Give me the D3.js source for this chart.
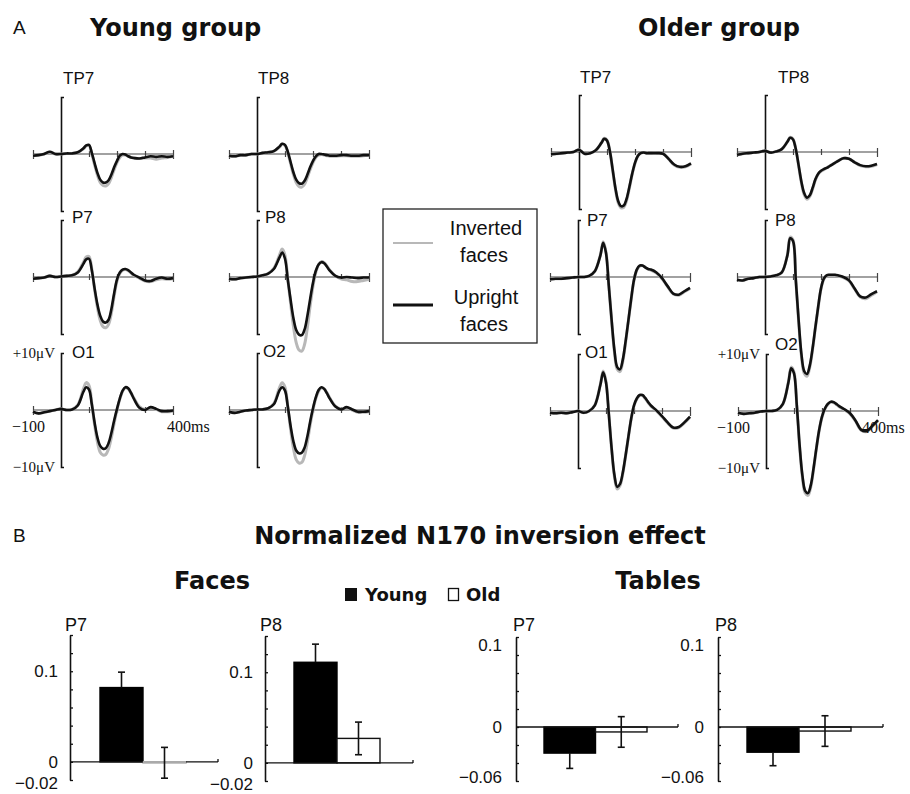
<!DOCTYPE html>
<html><head><meta charset="utf-8">
<script src="https://cdn.jsdelivr.net/npm/d3@7"></script>
<style>body{margin:0;background:#fff;} svg{display:block;}</style>
</head><body>
<svg id="c" width="910" height="794"></svg>
<script>
// ---------- DATA ----------
const times = [-100,-80,-60,-40,-20,0,20,40,60,80,90,100,110,120,130,140,150,160,170,180,190,200,210,220,230,240,250,260,280,300,320,340,360,380,400];

// Young group (µV)
const youngTP7Up  = [-0.3,-0.2,0,0.4,0,0,0.1,0.1,0.3,1.0,1.5,1.6,0.2,-1.6,-3.3,-4.5,-5.0,-5.0,-4.6,-3.6,-2.3,-1.2,-0.3,0.0,-0.1,-0.4,-0.6,-0.7,-0.8,-0.6,-0.4,-0.5,-0.4,-0.5,-0.4];
const youngTP7Inv = [-0.3,-0.2,0,0.3,0,0,0.1,0.1,0.3,0.9,1.4,1.5,0.0,-1.9,-3.7,-5.0,-5.5,-5.6,-5.2,-4.1,-2.7,-1.5,-0.6,-0.2,-0.2,-0.4,-0.6,-0.7,-0.8,-0.7,-0.7,-0.9,-0.7,-0.6,-0.4];
const youngTP8Up  = [-0.3,-0.4,-0.2,-0.2,0,0,0.2,0.3,0.5,1.3,1.8,1.6,0.4,-1.4,-3.2,-4.5,-5.1,-5.2,-4.7,-3.6,-2.3,-1.2,-0.4,0,0,-0.1,-0.2,-0.3,-0.3,-0.2,-0.2,-0.3,-0.3,-0.2,-0.2];
const youngTP8Inv = [-0.3,-0.4,-0.2,-0.2,0,0,0.2,0.3,0.5,1.2,1.7,1.5,0.2,-1.7,-3.6,-5.0,-5.7,-5.8,-5.3,-4.1,-2.7,-1.5,-0.6,-0.2,-0.1,-0.2,-0.3,-0.4,-0.4,-0.3,-0.3,-0.4,-0.4,-0.3,-0.2];
const youngP7Up   = [-0.3,-0.2,-0.1,0.2,0,0.1,0.2,0.3,0.8,2.3,3.1,3.2,1.2,-2.0,-4.8,-6.8,-7.8,-8.0,-7.5,-5.6,-2.8,-0.4,0.8,1.3,1.4,1.2,0.8,0.4,-0.1,-0.6,-0.7,-0.3,-0.1,-0.3,-0.2];
const youngP7Inv  = [-0.3,-0.2,-0.1,0.2,0,0.1,0.2,0.3,0.9,2.6,3.5,3.6,1.4,-2.2,-5.3,-7.6,-8.7,-8.9,-8.3,-6.3,-3.3,-0.7,0.6,1.2,1.3,1.1,0.7,0.3,-0.2,-0.7,-0.8,-0.5,-0.3,-0.4,-0.3];
const youngP8Up   = [-0.3,-0.4,-0.2,-0.1,0,0.1,0.3,0.6,1.4,3.4,4.3,3.2,-0.5,-4.0,-7.2,-9.3,-10.1,-10.2,-9.2,-6.8,-3.8,-1.0,1.1,2.2,2.6,2.4,1.8,1.1,0.2,-0.1,0,-0.1,-0.2,-0.1,-0.1];
const youngP8Inv  = [-0.3,-0.4,-0.2,-0.1,0,0.1,0.3,0.6,1.5,3.8,4.9,3.8,-0.4,-4.6,-8.6,-11.5,-12.8,-13.0,-11.8,-8.8,-5.0,-1.6,0.8,2.2,2.7,2.5,1.9,1.2,0.2,-0.3,-0.5,-0.8,-0.8,-0.6,-0.4];
const youngO1Up   = [-0.3,-0.6,-0.4,-0.2,0,0.2,0,0.1,0.8,3.2,4.0,3.6,1.0,-2.2,-4.8,-6.3,-6.8,-6.7,-5.8,-4.0,-1.8,0.2,2.0,3.4,4.0,3.8,3.0,2.0,0.4,0.0,0.5,0.2,-0.2,-0.2,-0.1];
const youngO1Inv  = [-0.3,-0.6,-0.4,-0.2,0,0.2,0,0.1,0.9,3.7,4.8,4.3,1.2,-2.6,-5.6,-7.4,-7.9,-7.8,-6.8,-4.8,-2.3,0.0,1.9,3.3,3.9,3.7,3.0,2.1,0.6,0.1,0.4,0.1,-0.3,-0.3,-0.2];
const youngO2Up   = [-0.3,-0.5,-0.3,-0.1,0,0.1,0.1,0.3,1.0,3.4,4.0,3.4,0.6,-2.8,-5.5,-7.1,-7.6,-7.5,-6.6,-4.6,-2.0,0.3,2.2,3.5,4.0,3.7,2.9,2.0,0.6,0.1,0.5,0.1,-0.3,-0.3,-0.2];
const youngO2Inv  = [-0.3,-0.5,-0.3,-0.1,0,0.1,0.1,0.3,1.1,3.9,4.8,4.0,0.6,-3.4,-6.7,-8.7,-9.3,-9.2,-8.0,-5.6,-2.6,0.0,2.0,3.3,3.9,3.7,3.0,2.1,0.7,0.2,0.4,0.0,-0.4,-0.4,-0.3];

// Older group (µV)
const olderTP7Up  = [-0.4,-0.3,-0.2,-0.1,0,0.4,-0.3,-0.2,0.3,1.6,2.3,2.0,0.2,-3.0,-6.3,-8.6,-9.5,-9.4,-8.2,-6.1,-3.8,-1.9,-0.7,-0.2,-0.1,-0.2,-0.2,-0.2,-0.2,-0.3,-1.2,-2.2,-2.6,-2.5,-2.0];
const olderTP7Inv = [-0.4,-0.3,-0.2,-0.1,0,0.4,-0.3,-0.2,0.3,1.6,2.4,2.1,0.2,-3.1,-6.5,-8.9,-9.8,-9.7,-8.5,-6.3,-3.9,-2.0,-0.7,-0.2,-0.1,-0.2,-0.2,-0.2,-0.2,-0.3,-1.2,-2.3,-2.7,-2.6,-2.1];
const olderTP8Up  = [-0.5,-0.3,-0.2,-0.1,0,0.2,-0.1,0.1,0.5,1.8,2.5,2.2,0.5,-2.3,-5.2,-7.2,-8.0,-7.6,-6.3,-4.8,-3.8,-3.3,-3.0,-2.8,-2.5,-2.2,-1.9,-1.6,-1.1,-1.2,-1.8,-2.3,-2.5,-2.4,-2.1];
const olderTP8Inv = [-0.5,-0.3,-0.2,-0.1,0,0.2,-0.1,0.1,0.5,1.8,2.6,2.3,0.5,-2.4,-5.4,-7.5,-8.3,-7.8,-6.5,-4.9,-3.9,-3.4,-3.1,-2.8,-2.5,-2.2,-1.9,-1.6,-1.1,-1.2,-1.8,-2.4,-2.6,-2.5,-2.2];
const olderP7Up   = [-0.4,-0.3,-0.3,-0.2,-0.1,0,0,0.2,1.0,3.8,6.0,4.2,-1.5,-7.5,-12.8,-15.8,-16.2,-14.5,-11.3,-7.6,-3.8,-0.5,1.3,2.0,2.0,1.7,1.4,1.3,0.8,-0.2,-1.6,-2.9,-3.1,-2.5,-1.9];
const olderP7Inv  = [-0.4,-0.3,-0.3,-0.2,-0.1,0,0,0.2,1.0,3.9,6.2,4.4,-1.5,-7.7,-13.1,-16.2,-16.6,-14.8,-11.5,-7.7,-3.9,-0.6,1.2,1.9,2.0,1.7,1.4,1.2,0.7,-0.3,-1.7,-3.0,-3.2,-2.6,-2.0];
const olderP8Up   = [-0.5,-0.6,-0.3,-0.2,0,0,0.1,0.3,0.8,3.8,6.8,6.3,-0.5,-7.5,-13.5,-16.5,-17.0,-15.5,-12.5,-8.8,-5.2,-2.0,-0.3,0.3,0.4,0.4,0.4,0.3,0,-0.6,-2.0,-3.4,-3.6,-3.0,-2.5];
const olderP8Inv  = [-0.5,-0.6,-0.3,-0.2,0,0,0.1,0.3,0.8,3.9,7.0,6.5,-0.5,-7.7,-13.8,-16.9,-17.4,-15.8,-12.7,-8.9,-5.3,-2.1,-0.4,0.2,0.3,0.3,0.3,0.2,-0.1,-0.7,-2.1,-3.5,-3.8,-3.2,-2.6];
const olderO1Up   = [-0.3,-0.4,-0.3,-0.4,-0.2,0,-0.3,0,1.0,4.6,6.8,5.0,-0.5,-6.5,-11.2,-13.3,-12.8,-10.8,-7.8,-4.5,-1.3,1.0,2.2,2.8,2.8,2.3,1.6,1.0,0.1,-0.9,-2.0,-2.9,-2.8,-2.0,-1.0];
const olderO1Inv  = [-0.3,-0.4,-0.3,-0.4,-0.2,0,-0.3,0,1.0,4.7,7.0,5.2,-0.5,-6.7,-11.5,-13.7,-13.1,-11.0,-7.9,-4.6,-1.4,0.9,2.1,2.7,2.7,2.2,1.5,0.9,0.0,-1.0,-2.1,-3.0,-2.9,-2.1,-1.1];
const olderO2Up   = [-0.3,-0.5,-0.4,-0.3,-0.1,0,0,0.2,1.2,5.0,7.5,6.6,1.0,-6.0,-11.3,-14.0,-14.4,-13.0,-10.0,-6.5,-3.3,-1.0,0.4,1.2,1.6,1.6,1.3,0.9,0.3,-0.4,-1.7,-3.3,-3.5,-2.6,-1.6];
const olderO2Inv  = [-0.3,-0.5,-0.4,-0.3,-0.1,0,0,0.2,1.2,5.1,7.7,6.8,1.0,-6.2,-11.6,-14.4,-14.8,-13.3,-10.2,-6.6,-3.4,-1.1,0.3,1.1,1.5,1.5,1.2,0.8,0.2,-0.5,-1.8,-3.4,-3.6,-2.7,-1.7];

// Panel B: normalized N170 inversion effect
const barGroups = ["Young", "Old"];
const facesP7Vals  = [0.082, -0.001];
const facesP7Err   = [0.017, 0.017];
const facesP8Vals  = [0.111, 0.027];
const facesP8Err   = [0.020, 0.018];
const tablesP7Vals = [-0.029, -0.0055];
const tablesP7Err  = [0.017, 0.017];
const tablesP8Vals = [-0.028, -0.0045];
const tablesP8Err  = [0.015, 0.017];
const facesTickLabels  = [0.1, 0, -0.02];
const tablesTickLabels = [0.1, 0, -0.06];

// ---------- DRAWING ----------
const svg = d3.select("#c");
const SANS = "'Liberation Sans', Arial, sans-serif";
const BOLD = "'DejaVu Sans', sans-serif";
const SERIF = "'Liberation Serif', 'Times New Roman', serif";

function text(x, y, s, opt = {}) {
  return svg.append("text").attr("x", x).attr("y", y).text(s)
    .attr("font-family", opt.family || SANS)
    .attr("font-size", opt.size || 17)
    .attr("font-weight", opt.weight || "normal")
    .attr("text-anchor", opt.anchor || "start")
    .attr("fill", "#111");
}

// Headings
text(13, 34, "A", {size: 19});
text(90, 36, "Young group", {family: BOLD, weight: "bold", size: 24});
text(638, 36, "Older group", {family: BOLD, weight: "bold", size: 24});

const erpPanels = [
  {name:"TP7", x0:61,  y0:154, up:youngTP7Up, inv:youngTP7Inv, lx:2,  ly:-76},
  {name:"TP8", x0:257, y0:154, up:youngTP8Up, inv:youngTP8Inv, lx:1,  ly:-76},
  {name:"P7",  x0:61,  y0:277, up:youngP7Up,  inv:youngP7Inv,  lx:11, ly:-60},
  {name:"P8",  x0:257, y0:277, up:youngP8Up,  inv:youngP8Inv,  lx:8,  ly:-60},
  {name:"O1",  x0:61,  y0:410, up:youngO1Up,  inv:youngO1Inv,  lx:11, ly:-58, scaleLabels:true, msDx:-6},
  {name:"O2",  x0:257, y0:410, up:youngO2Up,  inv:youngO2Inv,  lx:6,  ly:-59},
  {name:"TP7", x0:579, y0:152, up:olderTP7Up, inv:olderTP7Inv, lx:1,  ly:-75},
  {name:"TP8", x0:765, y0:152, up:olderTP8Up, inv:olderTP8Inv, lx:13, ly:-75},
  {name:"P7",  x0:578, y0:277, up:olderP7Up,  inv:olderP7Inv,  lx:9,  ly:-57},
  {name:"P8",  x0:765, y0:277, up:olderP8Up,  inv:olderP8Inv,  lx:10, ly:-57},
  {name:"O1",  x0:578, y0:411, up:olderO1Up,  inv:olderO1Inv,  lx:7,  ly:-59},
  {name:"O2",  x0:766, y0:411, up:olderO2Up,  inv:olderO2Inv,  lx:9,  ly:-67, scaleLabels:true, msDx:-16},
];

erpPanels.forEach(p => {
  const x = d3.scaleLinear().domain([-100, 400]).range([p.x0 - 28, p.x0 + 112]);
  const y = d3.scaleLinear().domain([-10, 10]).range([p.y0 + 57, p.y0 - 57]);
  const g = svg.append("g");

  g.append("line").attr("x1", x(-100)).attr("x2", x(400)).attr("y1", y(0)).attr("y2", y(0))
    .attr("stroke", "#444").attr("stroke-width", 1.2);
  const hx = g.append("g").attr("transform", `translate(0,${y(0) - 3})`)
    .call(d3.axisBottom(x).tickValues([-100, 100, 200, 300, 400]).tickSize(6).tickSizeOuter(0).tickFormat(""));
  hx.select(".domain").remove();
  hx.selectAll(".tick line").attr("stroke", "#444").attr("stroke-width", 1.2);
  hx.selectAll(".tick").filter(d => d === -100 || d === 400).select("line")
    .attr("y1", -1).attr("y2", 8);

  const vy = g.append("g").attr("transform", `translate(${x(0)},0)`)
    .call(d3.axisRight(y).tickValues([]).tickSizeOuter(3));
  vy.select(".domain").attr("stroke", "#111").attr("stroke-width", 1.6);

  const line = d3.line().x((d, i) => x(times[i])).y(d => y(d)).curve(d3.curveCatmullRom.alpha(0.5));
  g.append("path").datum(p.inv).attr("d", line).attr("fill", "none")
    .attr("stroke", "#b8b8b8").attr("stroke-width", 3).attr("stroke-linejoin", "round");
  g.append("path").datum(p.up).attr("d", line).attr("fill", "none")
    .attr("stroke", "#111").attr("stroke-width", 2.6).attr("stroke-linejoin", "round");

  text(p.x0 + p.lx, p.y0 + p.ly + 6, p.name, {size: 17});

  if (p.scaleLabels) {
    text(x(0) - 6, y(10) + 5, "+10\u03bcV", {family: SERIF, size: 15, anchor: "end"});
    text(x(0) - 6, y(-10) + 5, "\u221210\u03bcV", {family: SERIF, size: 15, anchor: "end"});
    text(x(-100) - 21, y(0) + 22, "\u2212100", {family: SERIF, size: 16});
    text(x(400) + p.msDx, y(0) + 22, "400ms", {family: SERIF, size: 16});
  }
});

// ERP legend
svg.append("rect").attr("x", 383).attr("y", 209).attr("width", 154).attr("height", 134)
  .attr("fill", "#fff").attr("stroke", "#222").attr("stroke-width", 1.3);
const legendItems = [
  {color:"#b8b8b8", w:2, ly:243, t1:"Inverted", t2:"faces", ty:228},
  {color:"#111", w:3, ly:305, t1:"Upright", t2:"faces", ty:297},
];
legendItems.forEach(d => {
  svg.append("line").attr("x1", 393).attr("x2", 433).attr("y1", d.ly).attr("y2", d.ly)
    .attr("stroke", d.color).attr("stroke-width", d.w);
  text(486, d.ty + 7, d.t1, {size: 20, anchor: "middle"});
  text(484, d.ty + 34, d.t2, {size: 20, anchor: "middle"});
});

// Panel B
text(13, 542, "B", {size: 19});
text(480, 544, "Normalized N170 inversion effect", {family: BOLD, weight: "bold", size: 24, anchor: "middle"});
text(212, 589, "Faces", {family: BOLD, weight: "bold", size: 24, anchor: "middle"});
text(658, 589, "Tables", {family: BOLD, weight: "bold", size: 24, anchor: "middle"});

svg.append("rect").attr("x", 345).attr("y", 588).attr("width", 12).attr("height", 13).attr("fill", "#111");
text(365, 601, "Young", {family: BOLD, weight: "bold", size: 18});
svg.append("rect").attr("x", 448.5).attr("y", 588.5).attr("width", 10).attr("height", 12)
  .attr("fill", "#fff").attr("stroke", "#111").attr("stroke-width", 1.3);
text(466, 601, "Old", {family: BOLD, weight: "bold", size: 18});

const barCharts = [
  {name:"P7", axisX:70,  xEnd:218, bx0:100, bx1:186, yr:[780, 635], dom:[-0.02, 0.14], vals:facesP7Vals,  errs:facesP7Err,  labels:facesTickLabels,  lab:-12, nameDx:-5},
  {name:"P8", axisX:265, xEnd:413, bx0:294, bx1:380, yr:[781, 636], dom:[-0.02, 0.14], vals:facesP8Vals,  errs:facesP8Err,  labels:facesTickLabels,  lab:-12, nameDx:-5},
  {name:"P7", axisX:516, xEnd:678, bx0:544, bx1:647, yr:[781, 637], dom:[-0.06, 0.10], vals:tablesP7Vals, errs:tablesP7Err, labels:tablesTickLabels, lab:-14, nameDx:-3},
  {name:"P8", axisX:718, xEnd:883, bx0:747, bx1:851, yr:[781, 637], dom:[-0.06, 0.10], vals:tablesP8Vals, errs:tablesP8Err, labels:tablesTickLabels, lab:-14, nameDx:-3},
];

barCharts.forEach(c => {
  const y = d3.scaleLinear().domain(c.dom).range(c.yr);
  const x = d3.scaleBand().domain(barGroups).range([c.bx0, c.bx1]).padding(0);
  const g = svg.append("g");
  const minor = d3.range(Math.round(c.dom[0] * 50), Math.round(c.dom[1] * 50) + 1).map(k => k / 50);
  const ax = g.append("g").attr("transform", `translate(${c.axisX},0)`)
    .call(d3.axisRight(y).tickValues(minor).tickSize(3).tickSizeOuter(0).tickFormat(""));
  ax.select(".domain").attr("stroke", "#111").attr("stroke-width", 1.6);
  ax.selectAll(".tick line").attr("stroke", "#111").attr("stroke-width", 1.3);

  c.labels.forEach(v => {
    let off = 0;
    if (v === 0.1 && c.dom[1] === 0.1) off = 8;
    if (v === c.dom[0]) off = c.dom[0] === -0.02 ? 3 : -4;
    const s = v === 0 ? "0" : (v < 0 ? "\u2212" + String(Math.abs(v)) : String(v));
    text(c.axisX + c.lab, y(v) + off + 6, s, {size: 17, anchor: "end"});
  });
  text(c.axisX + c.nameDx, 631, c.name, {size: 18});

  g.selectAll("rect.bar").data(c.vals).enter().append("rect")
    .attr("x", (d, i) => x(barGroups[i]))
    .attr("width", x.bandwidth())
    .attr("y", d => y(Math.max(0, d)))
    .attr("height", d => Math.max(1, Math.abs(y(d) - y(0))))
    .attr("fill", (d, i) => i === 0 ? "#000" : "#fff")
    .attr("stroke", (d, i) => i === 0 ? "#000" : (Math.abs(d) < 0.002 ? "#999" : "#111"))
    .attr("stroke-width", 1.4);

  g.append("line").attr("x1", c.axisX).attr("x2", c.xEnd).attr("y1", y(0)).attr("y2", y(0))
    .attr("stroke", "#111").attr("stroke-width", 1.4);
  c.vals.forEach((d, i) => {
    if (i === 1 && Math.abs(d) < 0.002) {
      g.append("line").attr("x1", x(barGroups[i])).attr("x2", x(barGroups[i]) + x.bandwidth())
        .attr("y1", y(0)).attr("y2", y(0)).attr("stroke", "#aaa").attr("stroke-width", 2);
    }
  });
  g.append("line").attr("x1", c.xEnd).attr("x2", c.xEnd).attr("y1", y(0) - 3).attr("y2", y(0))
    .attr("stroke", "#111").attr("stroke-width", 1.3);

  c.vals.forEach((d, i) => {
    const cx = x(barGroups[i]) + x.bandwidth() / 2;
    let lo, hi;
    if (i === 0) { if (d >= 0) { lo = d; hi = d + c.errs[i]; } else { lo = d - c.errs[i]; hi = d; } }
    else { lo = d - c.errs[i]; hi = d + c.errs[i]; }
    g.append("line").attr("x1", cx).attr("x2", cx).attr("y1", y(lo)).attr("y2", y(hi))
      .attr("stroke", "#111").attr("stroke-width", 1.6);
    const caps = i === 0 ? [d >= 0 ? hi : lo] : [lo, hi];
    caps.forEach(v => g.append("line").attr("x1", cx - 3.5).attr("x2", cx + 3.5)
      .attr("y1", y(v)).attr("y2", y(v)).attr("stroke", "#111").attr("stroke-width", 1.6));
  });
});
</script>
</body></html>
